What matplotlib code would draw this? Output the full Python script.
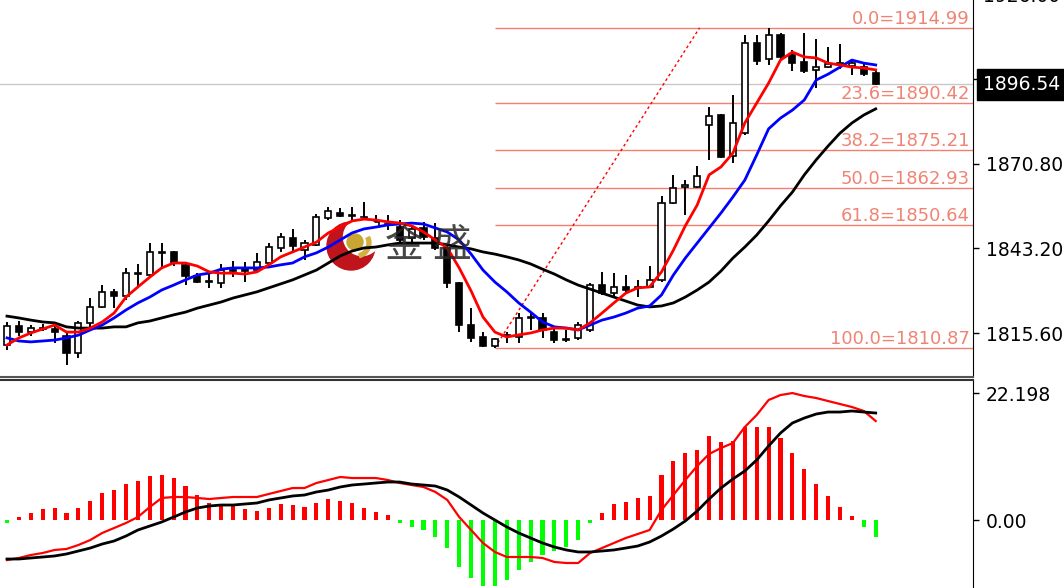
import numpy as np
import matplotlib
matplotlib.use("Agg")
import matplotlib.pyplot as plt
import matplotlib.transforms as mtransforms
from matplotlib.patches import Circle, Wedge

# candles (price)
opens = [1811.7, 1817.9, 1815.9, 1816.9, 1816.9, 1814.6, 1809.1, 1818.9, 1824.1, 1829.0,
         1827.7, 1834.8, 1834.5, 1842.0, 1842.0, 1837.8, 1834.2, 1832.5, 1831.9, 1836.1,
         1836.5, 1836.1, 1838.4, 1843.3, 1846.5, 1842.6, 1844.3, 1853.1, 1854.7, 1854.0,
         1853.4, 1850.1, 1850.8, 1850.1, 1846.5, 1849.8, 1846.5, 1843.3, 1831.9, 1818.2,
         1814.3, 1811.3, 1814.6, 1814.3, 1820.5, 1820.5, 1815.9, 1813.3, 1814.0, 1816.6,
         1831.2, 1828.6, 1830.6, 1830.3, 1830.6, 1832.9, 1857.9, 1863.2, 1863.2, 1883.4,
         1886.6, 1873.3, 1880.7, 1910.1, 1904.8, 1912.7, 1906.2, 1903.9, 1901.3, 1902.2,
         1902.9, 1902.6, 1902.2, 1900.3]
highs = [1819.2, 1819.5, 1818.2, 1818.5, 1818.9, 1815.6, 1819.5, 1827.0, 1831.2, 1829.9,
         1836.8, 1838.1, 1844.9, 1844.9, 1842.3, 1838.7, 1835.1, 1835.1, 1838.1, 1839.1,
         1838.7, 1841.7, 1844.9, 1848.2, 1849.5, 1845.9, 1854.4, 1856.6, 1856.3, 1856.6,
         1858.3, 1854.0, 1854.0, 1852.4, 1850.8, 1851.8, 1851.4, 1843.9, 1832.2, 1823.7,
         1815.9, 1814.0, 1815.9, 1822.1, 1822.4, 1822.1, 1817.2, 1816.6, 1819.2, 1831.9,
         1835.5, 1835.1, 1834.5, 1832.9, 1837.4, 1860.2, 1867.1, 1865.4, 1870.0, 1889.2,
         1886.9, 1893.1, 1912.7, 1912.7, 1914.99, 1913.3, 1907.8, 1913.3, 1911.4, 1908.8,
         1909.7, 1904.5, 1903.9, 1901.6]
lows = [1810.1, 1814.6, 1814.6, 1816.3, 1812.3, 1805.2, 1807.5, 1817.2, 1823.7, 1823.7,
        1826.4, 1830.6, 1833.5, 1836.8, 1837.4, 1831.2, 1831.9, 1830.3, 1830.3, 1833.8,
        1832.2, 1835.5, 1838.4, 1842.0, 1842.0, 1839.4, 1843.9, 1852.4, 1853.4, 1852.4,
        1849.2, 1848.2, 1849.2, 1844.9, 1844.9, 1845.9, 1842.6, 1830.3, 1815.9, 1812.7,
        1810.9, 1810.87, 1812.3, 1812.3, 1816.6, 1814.0, 1812.3, 1812.7, 1813.3, 1815.9,
        1828.0, 1827.3, 1828.6, 1827.3, 1830.3, 1832.2, 1857.6, 1854.0, 1862.8, 1871.9,
        1872.6, 1871.0, 1880.1, 1902.9, 1902.9, 1904.8, 1900.9, 1900.3, 1895.4, 1901.9,
        1901.6, 1899.6, 1899.3, 1896.3]
closes = [1817.9, 1815.9, 1817.2, 1817.2, 1815.9, 1809.1, 1818.9, 1824.1, 1829.0, 1827.7,
          1835.1, 1835.1, 1842.0, 1841.7, 1838.4, 1834.2, 1832.2, 1832.2, 1836.1, 1835.8,
          1835.8, 1838.7, 1843.6, 1846.9, 1843.9, 1844.9, 1853.4, 1855.3, 1853.7, 1853.7,
          1850.1, 1851.8, 1850.8, 1845.9, 1849.5, 1846.9, 1843.3, 1831.9, 1818.2, 1814.0,
          1811.3, 1813.6, 1815.0, 1820.5, 1820.6, 1816.6, 1813.3, 1813.4, 1818.2, 1831.2,
          1828.6, 1830.6, 1829.6, 1830.6, 1832.9, 1857.9, 1862.8, 1863.8, 1866.7, 1886.3,
          1872.9, 1884.0, 1910.1, 1904.2, 1912.7, 1905.5, 1903.5, 1900.9, 1902.2, 1903.2,
          1903.5, 1903.5, 1900.0, 1896.54]

# moving averages
ma_fast = [1811.7, 1814.0, 1815.6, 1816.9, 1818.2, 1815.9, 1815.9, 1817.2, 1819.2, 1822.1,
           1827.3, 1830.6, 1833.8, 1836.8, 1838.4, 1838.4, 1837.4, 1835.5, 1835.1, 1835.1,
           1834.8, 1835.5, 1837.8, 1840.4, 1842.0, 1843.6, 1845.2, 1848.2, 1850.1, 1852.1,
           1852.7, 1852.4, 1851.8, 1851.4, 1850.5, 1848.5, 1845.9, 1843.3, 1836.8, 1829.3,
           1820.8, 1815.9, 1814.3, 1815.0, 1815.6, 1816.6, 1817.2, 1817.2, 1816.6, 1818.9,
           1822.1, 1825.4, 1828.6, 1830.3, 1830.6, 1835.5, 1842.6, 1850.5, 1857.3, 1867.1,
           1869.7, 1874.2, 1884.0, 1890.5, 1897.0, 1904.5, 1907.1, 1905.5, 1905.2, 1903.5,
           1902.9, 1902.2, 1901.9, 1901.3]
ma_mid = [1814.0, 1813.0, 1812.7, 1813.0, 1813.3, 1814.0, 1814.9, 1816.6, 1818.2, 1820.5,
          1823.1, 1825.4, 1827.3, 1829.6, 1831.2, 1832.9, 1834.5, 1835.1, 1836.4, 1836.8,
          1836.8, 1836.8, 1837.1, 1837.8, 1838.4, 1840.4, 1841.7, 1843.6, 1845.9, 1848.2,
          1849.5, 1850.1, 1850.8, 1851.1, 1851.4, 1851.1, 1849.8, 1848.5, 1845.9, 1841.3,
          1836.1, 1832.2, 1829.0, 1825.4, 1822.4, 1819.2, 1817.6, 1817.2, 1816.6, 1818.2,
          1819.8, 1820.8, 1822.1, 1823.7, 1824.4, 1828.0, 1834.5, 1840.0, 1844.9, 1849.8,
          1854.7, 1859.9, 1865.4, 1873.6, 1882.1, 1885.6, 1888.2, 1891.5, 1898.0, 1899.9,
          1902.2, 1904.5, 1903.5, 1902.9]
ma_slow = [1821.1, 1820.5, 1819.8, 1819.2, 1818.9, 1817.6, 1817.2, 1817.2, 1817.2, 1817.6,
           1817.6, 1818.9, 1819.5, 1820.5, 1821.5, 1822.4, 1823.7, 1824.7, 1825.7, 1827.0,
           1828.0, 1829.0, 1830.3, 1831.6, 1832.9, 1834.5, 1836.1, 1838.4, 1840.7, 1842.3,
           1843.3, 1843.6, 1844.3, 1844.9, 1844.9, 1844.9, 1844.9, 1844.3, 1843.6, 1843.0,
           1842.0, 1841.3, 1840.4, 1839.4, 1838.1, 1836.4, 1834.8, 1832.9, 1831.2, 1829.9,
           1828.6, 1827.3, 1826.0, 1824.7, 1824.1, 1824.4, 1825.4, 1827.3, 1829.6, 1832.2,
           1835.8, 1840.0, 1843.6, 1847.5, 1852.1, 1857.0, 1861.5, 1867.1, 1872.0, 1876.5,
           1880.7, 1884.0, 1886.6, 1888.6]

# MACD panel
macd_hist = [-0.5, 0.5, 1.2, 1.9, 2.1, 1.2, 2.1, 3.3, 4.7, 5.2,
             6.3, 6.8, 7.7, 7.9, 7.3, 5.9, 4.4, 3.0, 2.6, 2.4,
             1.9, 1.6, 2.1, 2.8, 2.6, 2.3, 3.0, 3.7, 3.3, 3.0,
             2.1, 1.4, 0.9, -0.5, -1.2, -1.7, -3.0, -4.9, -8.2, -10.1,
             -11.5, -11.5, -10.5, -8.7, -7.3, -6.1, -5.4, -4.7, -3.5, -0.5,
             1.2, 2.8, 3.1, 3.8, 4.2, 7.9, 10.3, 11.7, 12.2, 14.7,
             13.6, 13.8, 16.3, 16.3, 16.3, 14.3, 11.7, 8.9, 6.3, 4.2,
             2.3, 0.7, -1.2, -3.0]
macd_line = [-7.0, -6.64, -6.12, -5.77, -5.24, -5.07, -4.37, -3.5, -2.27, -1.4,
             -0.52, 0.52, 2.27, 3.85, 4.02, 4.02, 3.85, 3.67, 3.85, 4.02,
             4.02, 4.02, 4.55, 5.07, 5.59, 5.59, 6.47, 6.99, 7.52, 7.34,
             7.34, 7.34, 6.99, 6.47, 6.12, 5.77, 4.9, 3.5, 0.52, -1.75,
             -4.02, -5.59, -6.47, -6.47, -6.47, -6.64, -7.34, -7.52, -7.52, -5.77,
             -4.9, -4.02, -3.15, -2.45, -1.75, 1.75, 4.37, 6.99, 9.44, 11.54,
             12.59, 13.46, 16.26, 18.36, 20.98, 21.85, 22.198, 21.68, 21.33, 20.8,
             20.28, 19.76, 19.06, 17.31]
signal_line = [-6.82, -6.82, -6.64, -6.47, -6.29, -5.94, -5.42, -4.9, -4.2, -3.67,
               -2.8, -1.75, -1.05, -0.35, 0.52, 1.4, 2.1, 2.45, 2.62, 2.62,
               2.8, 2.97, 3.5, 3.85, 4.2, 4.37, 4.9, 5.24, 5.77, 6.12,
               6.29, 6.47, 6.64, 6.64, 6.29, 6.12, 5.94, 5.24, 4.02, 2.62,
               1.22, 0.0, -1.22, -2.27, -3.15, -4.02, -4.72, -5.24, -5.59, -5.59,
               -5.42, -5.24, -4.9, -4.55, -3.85, -2.8, -1.57, -0.17, 1.57, 3.67,
               5.59, 7.17, 8.57, 10.49, 12.94, 15.21, 16.96, 17.83, 18.53, 18.88,
               18.88, 19.06, 18.88, 18.71]

fib_ratios = ["0.0", "23.6", "38.2", "50.0", "61.8", "100.0"]
fib_prices = [1914.99, 1890.42, 1875.21, 1862.93, 1850.64, 1810.87]
fib_start, fib_end = 41, 58.2
last_price = 1896.54
price_ticks = [1815.6, 1843.2, 1870.8, 1898.4]

W, H = 1064, 588
fig = plt.figure(figsize=(W / 100, H / 100), dpi=100)
ax = fig.add_axes([0, 1 - 377 / H, 973 / W, 377 / H])
ax2 = fig.add_axes([0, 0, 973 / W, 208 / H])

x = np.arange(len(closes))
xmin = -7 / 11.9
xmax = xmin + 973 / 11.9
for a in (ax, ax2):
    a.set_xlim(xmin, xmax)
    a.set_xticks([])
    a.yaxis.tick_right()
    a.tick_params(axis="y", length=4, width=1, pad=5, labelsize=13.5, colors="black")
    a.spines["left"].set_visible(False)
ax.set_ylim(1801.27, 1924.06)
ax2.set_ylim(-11.89, 24.48)

ax.spines["top"].set_visible(False)
ax.spines["bottom"].set_color("#555555")
ax.spines["bottom"].set_linewidth(1.5)
ax2.spines["bottom"].set_visible(False)
ax2.spines["top"].set_color("#333333")
ax2.spines["top"].set_linewidth(1.5)

ax.set_yticks(price_ticks)
ax.set_yticklabels([f"{v:.2f}" for v in price_ticks])
ax2.set_yticks([0, 22.198])
ax2.set_yticklabels(["0.00", "22.198"])

blend = mtransforms.blended_transform_factory(ax.transAxes, ax.transData)

# current price line
ax.axhline(last_price, color="#c8c8c8", lw=1, zorder=0)

# fibonacci levels
ax.hlines(fib_prices, fib_start, xmax, color="#f47f6e", lw=1, zorder=1)
for r, p in zip(fib_ratios, fib_prices):
    ax.text(0.997, p, f"{r}={p:.2f}", transform=blend, ha="right", va="bottom",
            fontsize=13, color="#f08474", zorder=1)
ax.plot([fib_start, fib_end], [fib_prices[-1], fib_prices[0]], color="red",
        lw=1, linestyle=(0, (2, 2)), zorder=1)

# candles
o = np.array(opens)
c = np.array(closes)
up = c >= o
ax.vlines(x, lows, highs, color="black", lw=1.4, zorder=2)
body_h = np.maximum(np.abs(c - o), 0.3)
ax.bar(x, body_h, bottom=np.minimum(o, c), width=0.52,
       color=np.where(up, "white", "black"), edgecolor="black", linewidth=1.2, zorder=3)

# logo
tr = fig.dpi_scale_trans


def px(xp, yp):
    return (xp / 100, (H - yp) / 100)


ax.add_patch(Circle(px(351, 246), 0.24, color="#c0141c", transform=tr, zorder=4))
ax.add_patch(Circle(px(362, 237), 0.185, color="white", transform=tr, zorder=4))
ax.add_patch(Circle(px(355, 242), 0.08, color="#c9a532", transform=tr, zorder=4))
ax.add_patch(Wedge(px(356, 243), 0.15, -75, 25, width=0.04, color="#d4b040",
                   transform=tr, zorder=4))

# moving averages
ax.plot(x, ma_slow, color="black", lw=2, zorder=5)
ax.plot(x, ma_mid, color="#0000ff", lw=2, zorder=5)
ax.plot(x, ma_fast, color="#ff0000", lw=2, zorder=5)

for ch, cx in (("金", 404), ("盛", 452)):
    fig.text(cx / W, 1 - 246 / H, ch, fontsize=28, family=["Noto Sans CJK SC", "DejaVu Sans"],
             color="#262626", alpha=0.85, ha="center", va="center")

# price labels on the right
ax.text(983 / 973, 1 + 3 / 377, "1926.00", transform=ax.transAxes, ha="left", va="center",
        fontsize=13.5, clip_on=False)
ax.text(983 / 973, last_price, f"{last_price:.2f}", transform=blend, ha="left", va="center",
        fontsize=13.5, color="white", clip_on=False, zorder=10,
        bbox=dict(boxstyle="square,pad=0.3", fc="black", ec="black"))

# MACD
hist = np.array(macd_hist)
ax2.bar(x, hist, width=0.34, color=np.where(hist >= 0, "#ff0000", "#00ff00"), zorder=2)
ax2.plot(x, macd_line, color="#ff0000", lw=1.6, zorder=3)
ax2.plot(x, signal_line, color="black", lw=2, zorder=3)

fig.savefig("out.png", dpi=100)
plt.close(fig)
